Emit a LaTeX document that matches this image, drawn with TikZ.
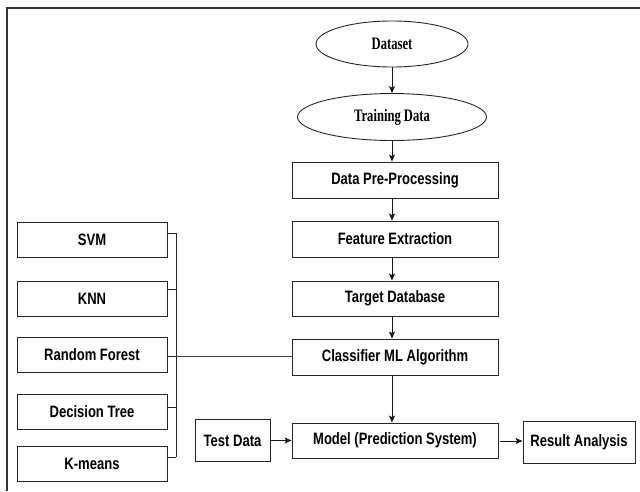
\documentclass[tikz,border=0pt]{standalone}
\usepackage{fontspec}
\newfontfamily\boxfont[FakeStretch=0.79]{Liberation Sans}
\newfontfamily\ellfont[FakeStretch=0.72]{Liberation Serif}
\usetikzlibrary{shapes.geometric,arrows.meta}
\begin{document}
\begin{tikzpicture}[x=1pt,y=-1pt,
  box/.style={draw=black!85, line width=0.9pt, rectangle, inner sep=0pt,
    font=\boxfont\bfseries\fontsize{16.5}{18}\selectfont, text=black},
  ell/.style={draw=black!85, line width=0.9pt, ellipse, inner sep=0pt,
    font=\ellfont\bfseries\fontsize{17.5}{19}\selectfont, text=black},
  arr/.style={draw=black!90, line width=0.9pt, -{Stealth[length=7pt,width=6pt,inset=1.5pt]}},
  ln/.style={draw=black!85, line width=0.9pt}]
\useasboundingbox (0,0) rectangle (640,491);
\fill[white] (0,0) rectangle (640,491);
\draw[black!80, line width=2pt] (6.5,491) -- (6.5,8) -- (640,8);

% right column
\node[ell, minimum width=152pt, minimum height=46pt] (dataset) at (392,44) {Dataset};
\node[ell, minimum width=189pt, minimum height=47pt] (training) at (392,117) {Training Data};
\node[box, minimum width=206pt, minimum height=36pt] (dpp) at (395,180) {Data Pre-Processing};
\node[box, minimum width=206pt, minimum height=36pt] (feat) at (395,239) {Feature Extraction};
\node[box, minimum width=206pt, minimum height=35pt] (target) at (395,298.5) {Target Database};
\node[box, minimum width=206pt, minimum height=36pt] (clf) at (395,357) {Classifier ML Algorithm};
\node[box, minimum width=206pt, minimum height=35pt] (model) at (395,440.5) {Model (Prediction System)};
\node[box, minimum width=75pt, minimum height=42pt] (test) at (232.5,440.5) {Test Data};
\node[box, minimum width=112pt, minimum height=42pt] (result) at (579,442) {Result Analysis};

% left column
\node[box, minimum width=150pt, minimum height=35pt] (svm) at (92,239.5) {SVM};
\node[box, minimum width=150pt, minimum height=35pt] (knn) at (92,298.5) {KNN};
\node[box, minimum width=150pt, minimum height=35pt] (rf) at (92,355) {Random Forest};
\node[box, minimum width=150pt, minimum height=35pt] (dt) at (92,411.5) {Decision Tree};
\node[box, minimum width=150pt, minimum height=35pt] (km) at (92,464) {K-means};

% vertical arrows
\draw[arr] (dataset.south) -- (dataset.south |- training.north);
\draw[arr] (training.south) -- (training.south |- dpp.north);
\draw[arr] ([xshift=-3pt]dpp.south) -- ([xshift=-3pt]feat.north);
\draw[arr] ([xshift=-3pt]feat.south) -- ([xshift=-3pt]target.north);
\draw[arr] ([xshift=-3pt]target.south) -- ([xshift=-3pt]clf.north);
\draw[arr] ([xshift=-3pt]clf.south) -- ([xshift=-3pt]model.north);

% horizontal arrows
\draw[arr] (test.east) -- (model.west);
\draw[arr] ([xshift=2pt,yshift=-0.5pt]model.east) -- ([yshift=-0.5pt]model.east -| result.west);

% bracket
\coordinate (btop) at (176,233);
\coordinate (bbot) at (176,457);
\coordinate (bmid) at (176,356);
\draw[ln] (btop) -- (bbot);
\draw[ln] ([yshift=6.5pt]svm.east) -- ([yshift=6.5pt]svm.east -| btop);
\draw[ln] ([yshift=9.5pt]knn.east) -- ([yshift=9.5pt]knn.east -| btop);
\draw[ln] ([yshift=-1pt]rf.east) -- ([yshift=-1pt]rf.east -| btop);
\draw[ln] ([yshift=4.5pt]dt.east) -- ([yshift=4.5pt]dt.east -| btop);
\draw[ln] ([yshift=7pt]km.east) -- ([yshift=7pt]km.east -| btop);
\draw[ln, black!75] (bmid) -- (bmid -| clf.west);
\end{tikzpicture}
\end{document}
